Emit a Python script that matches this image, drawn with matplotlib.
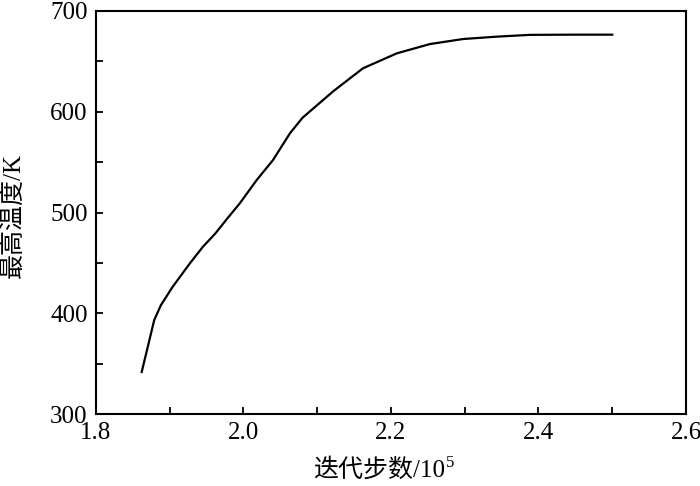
import matplotlib
matplotlib.use("Agg")
import matplotlib.pyplot as plt
from matplotlib.ticker import MultipleLocator, FormatStrFormatter

plt.rcParams['font.family'] = ['Liberation Serif', 'Noto Sans CJK SC', 'DejaVu Sans']

steps = [1.862, 1.879, 1.888, 1.904, 1.9275, 1.945, 1.962, 1.978, 1.995, 2.018, 2.040,
         2.063, 2.080, 2.099, 2.122, 2.162, 2.208, 2.253, 2.298, 2.343, 2.388, 2.45, 2.500]
temps = [341.7, 393.3, 408.0, 426.3, 449.7, 466.0, 479.3, 494.0, 509.1, 532.3, 552.0,
         578.6, 594.0, 606.0, 620.5, 643.1, 658.0, 667.2, 672.2, 674.5, 676.3, 676.5, 676.5]

xlabel = "迭代步数/10"
xlabel_exp = "5"
ylabel = "最高温度/K"

fig = plt.figure(figsize=(7, 4.86), dpi=100)
ax = fig.add_axes([0.1371, 0.1481, 0.8429, 0.8293])
ax.plot(steps, temps, color='black', lw=1.6)
ax.set_xlim(1.8, 2.6)
ax.set_ylim(300, 700)
ax.xaxis.set_major_locator(MultipleLocator(0.2))
ax.xaxis.set_minor_locator(MultipleLocator(0.1))
ax.yaxis.set_major_locator(MultipleLocator(100))
ax.yaxis.set_minor_locator(MultipleLocator(50))
ax.xaxis.set_major_formatter(FormatStrFormatter('%.1f'))
ax.tick_params(which='both', direction='in', length=5, width=1.3, labelsize=18,
               top=False, right=False)
ax.tick_params(axis='x', pad=6)
ax.tick_params(axis='y', pad=6)
for s in ax.spines.values():
    s.set_linewidth(1.5)

# x label with superscript exponent
base_y = 9 / 486
t = fig.text(313 / 700, base_y, xlabel, fontsize=18, ha='left', va='baseline')
fig.canvas.draw()
bb = t.get_window_extent()
fig.text(bb.x1 / fig.bbox.width + 0.001, base_y + 10 / 486, xlabel_exp,
         fontsize=12, ha='left', va='baseline')

fig.text(13 / 700, 0.5 + (243 - 215) / 486, ylabel, fontsize=18, rotation=90,
         ha='center', va='center')
fig.savefig("out.png", dpi=100)
